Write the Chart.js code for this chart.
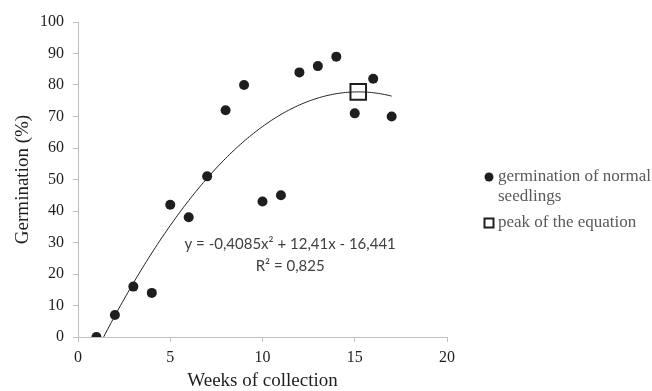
<!DOCTYPE html>
<html>
<head>
<meta charset="utf-8">
<script src="https://cdn.jsdelivr.net/npm/chart.js@4"></script>
<style>
  html, body { margin: 0; padding: 0; background: #fff; }
  #wrap { width: 652px; height: 391px; }
</style>
</head>
<body>
<div id="wrap"><canvas id="germChart"></canvas></div>
<script>
const weeks = [1, 2, 3, 4, 5, 6, 7, 8, 9, 10, 11, 12, 13, 14, 15, 16, 17]
const germination = [0, 7, 16, 14, 42, 38, 51, 72, 80, 43, 45, 84, 86, 89, 71, 82, 70]

// quadratic fit: a*x^2 + b*x + c
const fitCoef = [-0.4085, 12.41, -16.441]
const fitRange = [1, 17]
const fitText = ['y = -0,4085x\u00B2 + 12,41x - 16,441', 'R\u00B2 = 0,825']

const legendLabels = [['germination of normal', 'seedlings'], ['peak of the equation']]

const xTicks = [0, 5, 10, 15, 20]

const fit = x => fitCoef[0] * x * x + fitCoef[1] * x + fitCoef[2]

let curve = []
for (let i = 0; i <= 160; i++) {
  let x = fitRange[0] + (fitRange[1] - fitRange[0]) * i / 160
  curve.push({ x: x, y: fit(x) })
}
let peakX = -fitCoef[1] / (2 * fitCoef[0])
let peak = [{ x: peakX, y: fit(peakX) }]

let points = weeks.map((w, i) => ({ x: w, y: germination[i] }))

const axisGrey = '#bfbfbf'
const ink = '#1e1e1e'
const serif = "'Liberation Serif', 'Times New Roman', serif"

// equation text and the two-line legend on the right
const extras = {
  id: 'extras',
  afterDatasetsDraw(chart) {
    const ctx = chart.ctx
    const xs = chart.scales.x, ys = chart.scales.y
    ctx.save()
    ctx.font = "15px Lato, 'Open Sans', sans-serif"
    ctx.fillStyle = '#404040'
    ctx.textAlign = 'center'
    ctx.textBaseline = 'middle'
    ctx.fillText(fitText[0], xs.getPixelForValue(11.5), ys.getPixelForValue(29.5))
    ctx.fillText(fitText[1], xs.getPixelForValue(11.5), ys.getPixelForValue(22.5))

    // legend
    ctx.font = '17px ' + serif
    ctx.textAlign = 'left'
    let lx = 489, ly = 177
    ctx.beginPath()
    ctx.arc(lx, ly, 4.5, 0, Math.PI * 2)
    ctx.fillStyle = ink
    ctx.fill()
    ctx.fillStyle = '#595959'
    legendLabels[0].forEach((t, i) => ctx.fillText(t, 498, ly + i * 20))
    let sy = 223
    ctx.strokeStyle = ink
    ctx.lineWidth = 2
    ctx.strokeRect(lx - 4.5, sy - 4.5, 9, 9)
    ctx.fillText(legendLabels[1][0], 498, sy)
    ctx.restore()
  }
}

let chart = new Chart(document.getElementById('germChart'), {
  type: 'scatter',
  data: {
    datasets: [
      {
        label: 'peak of the equation',
        data: peak,
        pointStyle: 'rect',
        pointRadius: 11,
        pointBorderWidth: 2,
        pointBackgroundColor: 'rgba(255,255,255,0)',
        pointBorderColor: ink,
        order: 0
      },
      {
        label: 'germination of normal seedlings',
        data: points,
        pointRadius: 5,
        pointBackgroundColor: ink,
        pointBorderWidth: 0,
        order: 1
      },
      {
        label: 'trend',
        data: curve,
        showLine: true,
        pointRadius: 0,
        borderColor: ink,
        borderWidth: 1,
        order: 2
      }
    ]
  },
  options: {
    responsive: true,
    maintainAspectRatio: false,
    animation: false,
    events: [],
    layout: { padding: { top: 22, right: 205, left: 0, bottom: 0 } },
    plugins: {
      legend: { display: false },
      tooltip: { enabled: false }
    },
    scales: {
      x: {
        type: 'linear',
        min: 0,
        max: 20,
        afterBuildTicks: s => { s.ticks = xTicks.map(v => ({ value: v })) },
        afterFit: s => { s.height = 54 },
        grid: { drawOnChartArea: false, drawTicks: true, tickLength: 5, color: axisGrey },
        border: { color: axisGrey, width: 1 },
        ticks: { color: ink, font: { family: serif, size: 16 }, padding: 6, maxRotation: 0 },
        title: { display: true, text: 'Weeks of collection', color: ink, font: { family: serif, size: 19, lineHeight: 1 }, padding: { top: 0, bottom: 0 } }
      },
      y: {
        min: 0,
        max: 100,
        afterFit: s => { s.width = 78 },
        grid: { drawOnChartArea: false, drawTicks: true, tickLength: 5, color: axisGrey },
        border: { color: axisGrey, width: 1 },
        ticks: { stepSize: 10, color: ink, font: { family: serif, size: 16 }, padding: 9 },
        title: { display: true, text: 'Germination (%)', color: ink, font: { family: serif, size: 19, lineHeight: 1 }, padding: { top: 14, bottom: 0 } }
      }
    }
  },
  plugins: [extras]
})
</script>
</body>
</html>
